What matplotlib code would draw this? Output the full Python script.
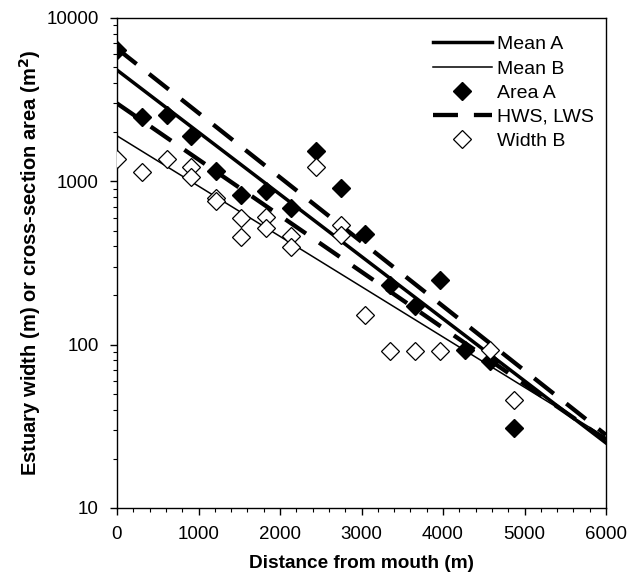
import matplotlib
matplotlib.use("Agg")
import matplotlib.pyplot as plt
from matplotlib.ticker import NullFormatter, LogLocator, MultipleLocator

plt.rcParams['font.family'] = ['Liberation Sans', 'DejaVu Sans']

# Area A (filled diamonds)
area_x = [0, 305, 610, 914, 1219, 1524, 1829, 2134, 2438, 2743, 3048, 3353,
          3658, 3962, 4267, 4572, 4877]
area_y = [6400, 2490, 2550, 1900, 1160, 830, 875, 690, 1540, 905, 475, 232,
          173, 249, 93, 79, 31]

# Width B (open diamonds)
width_x = [0, 305, 610, 914, 914, 1219, 1219, 1524, 1524, 1829, 1829, 2134,
           2134, 2438, 2743, 2743, 3048, 3353, 3658, 3962, 4572, 4877]
width_y = [1370, 1136, 1364, 1229, 1067, 794, 758, 594, 458, 602, 520, 463,
           398, 1219, 540, 469, 152, 92, 92, 92, 93, 46]

# Fitted lines (end points)
line_x = [0, 6000]
mean_a = [4800, 25]
mean_b = [1900, 27]
hws = [6500, 28]
lws = [3000, 26]

fig = plt.figure(figsize=(6.42, 5.82), dpi=100)
ax = fig.add_axes([117/642, 1 - 508/582, (606-117)/642, (508-18)/582])

ax.plot(line_x, mean_a, color='black', lw=2.5, label='Mean A', zorder=3)
ax.plot(line_x, mean_b, color='black', lw=1.1, label='Mean B', zorder=3)
ax.plot(area_x, area_y, linestyle='none', marker='D', ms=9.5, mfc='black',
        mec='black', label='Area A', zorder=4)
ax.plot(line_x, hws, color='black', lw=3.1, dashes=(5.8, 3.7),
        label='HWS, LWS', zorder=3)
ax.plot(line_x, lws, color='black', lw=3.1, dashes=(5.8, 3.7), zorder=3)
ax.plot(width_x, width_y, linestyle='none', marker='D', ms=9.5, mfc='white',
        mec='black', mew=0.9, label='Width B', zorder=5)

ax.set_yscale('log')
ax.set_xlim(0, 6000)
ax.set_ylim(10, 10000)
ax.set_xticks([0, 1000, 2000, 3000, 4000, 5000, 6000])
ax.xaxis.set_minor_locator(MultipleLocator(200))
ax.set_yticks([10, 100, 1000, 10000])
ax.set_yticklabels(['10', '100', '1000', '10000'])
ax.yaxis.set_minor_locator(LogLocator(base=10, subs=range(2, 10)))
ax.yaxis.set_minor_formatter(NullFormatter())
ax.tick_params(axis='both', which='major', direction='out', length=5.3,
               width=1, labelsize=13.5, pad=8)
ax.tick_params(axis='both', which='minor', direction='out', length=3, width=0.8)
for s in ax.spines.values():
    s.set_linewidth(1)

ax.set_xlabel('Distance from mouth (m)', fontsize=13.7, fontweight='bold',
              labelpad=8)
ax.set_ylabel('Estuary width (m) or cross-section area (m$^\\mathbf{2}$)',
              fontsize=14.5, fontweight='bold', labelpad=2)

leg = ax.legend(loc='upper right', bbox_to_anchor=(1.0, 1 - 6/490),
                frameon=False, fontsize=14,
                handlelength=3.0, handletextpad=0.3, labelspacing=0.34,
                borderaxespad=0.3, borderpad=0.3)

fig.savefig('out.png', dpi=100)
